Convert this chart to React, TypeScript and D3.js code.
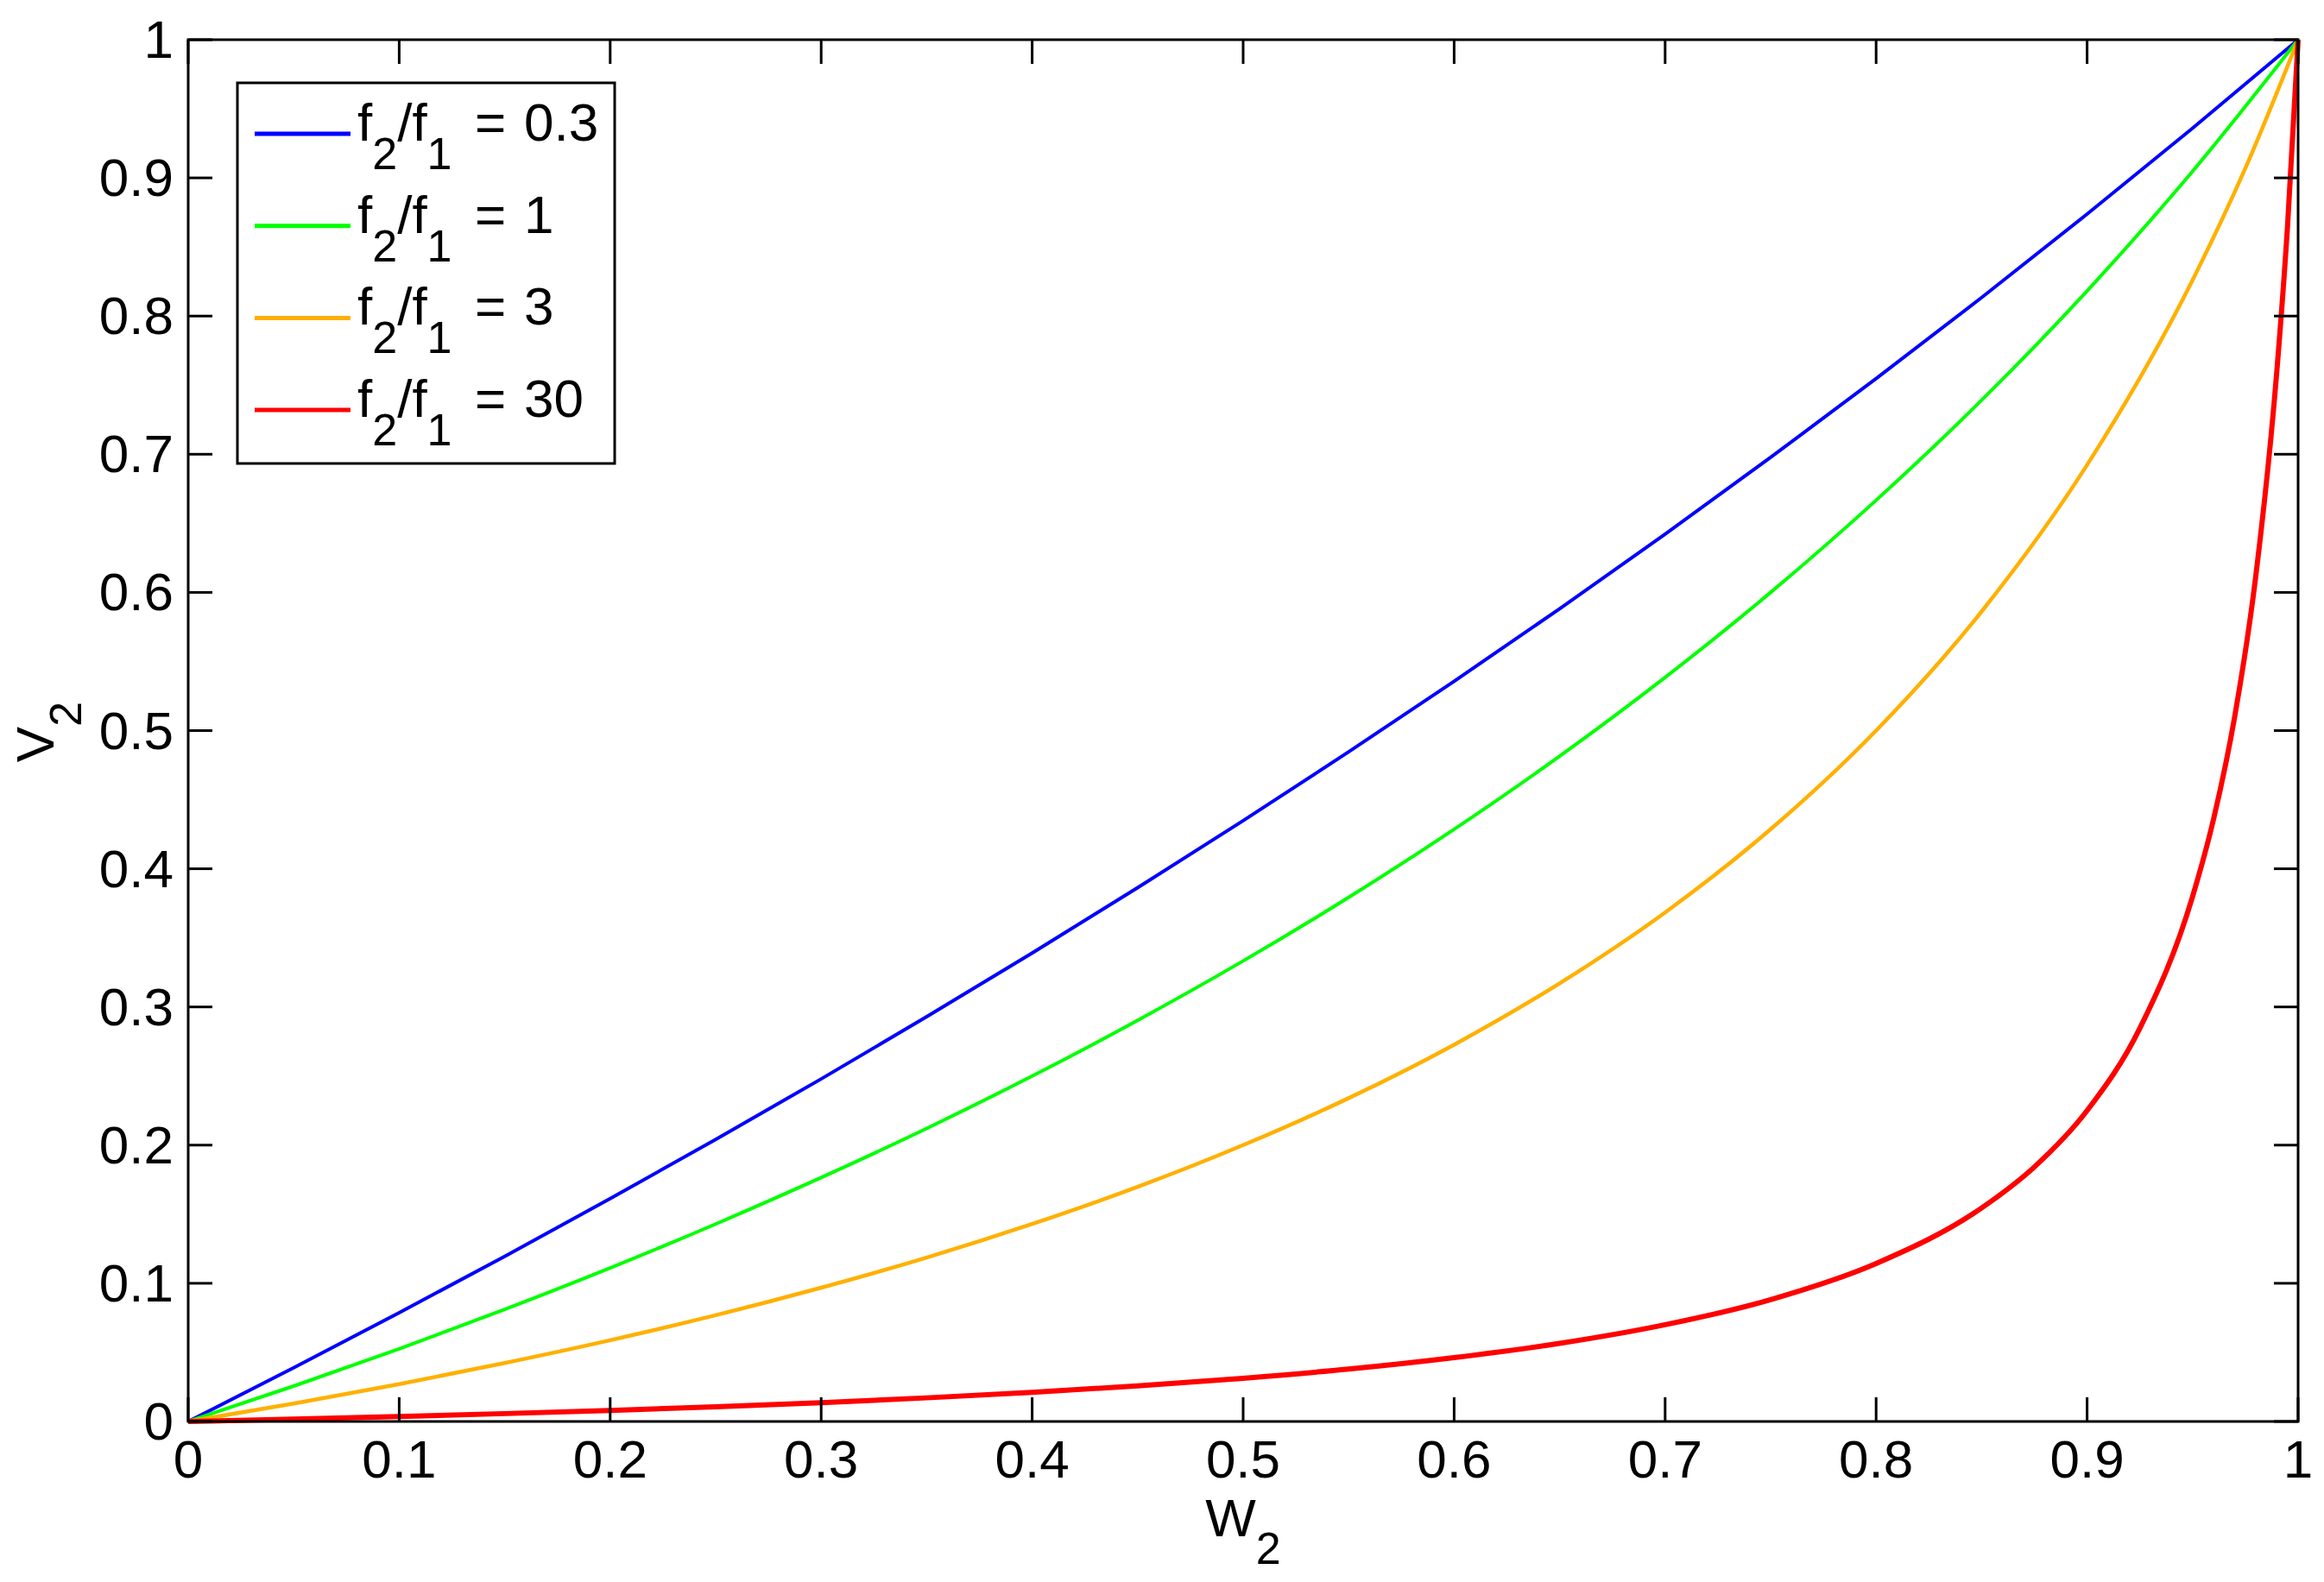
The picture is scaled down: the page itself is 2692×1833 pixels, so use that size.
import React from "react";
import * as d3 from "d3";

const W_GRID = [0, 0.05, 0.1, 0.15, 0.2, 0.25, 0.3, 0.35, 0.4, 0.45, 0.5, 0.55, 0.6, 0.65, 0.7, 0.75, 0.8, 0.85, 0.9, 0.95, 1];
const blueV = [0, 0.0389, 0.0787, 0.1195, 0.1613, 0.2041, 0.2479, 0.2929, 0.339, 0.3863, 0.4348, 0.4846, 0.5357, 0.5882, 0.6422, 0.6977, 0.7547, 0.8134, 0.8738, 0.936, 1];
const greenV = [0, 0.0256, 0.0526, 0.0811, 0.1111, 0.1429, 0.1765, 0.2121, 0.25, 0.2903, 0.3333, 0.3793, 0.4286, 0.4815, 0.5385, 0.6, 0.6667, 0.7391, 0.8182, 0.9048, 1];
const orangeW = [0, 0.05, 0.1, 0.15, 0.2, 0.25, 0.3, 0.35, 0.4, 0.45, 0.5, 0.55, 0.6, 0.65, 0.7, 0.75, 0.8, 0.85, 0.9, 0.95, 0.975, 1];
const orangeV = [0, 0.013, 0.027, 0.0423, 0.0588, 0.0769, 0.0968, 0.1186, 0.1429, 0.1698, 0.2, 0.234, 0.2727, 0.3171, 0.3684, 0.4286, 0.5, 0.5862, 0.6923, 0.8261, 0.907, 1];
const redW = [0, 0.05, 0.1, 0.15, 0.2, 0.25, 0.3, 0.35, 0.4, 0.45, 0.5, 0.55, 0.6, 0.65, 0.7, 0.75, 0.8, 0.85, 0.875, 0.9, 0.925, 0.95, 0.96, 0.97, 0.98, 0.99, 0.995, 1];
const redV = [0, 0.0017, 0.0036, 0.0057, 0.008, 0.0106, 0.0136, 0.0171, 0.0211, 0.0257, 0.0313, 0.0379, 0.0462, 0.0565, 0.07, 0.0882, 0.1143, 0.1545, 0.1842, 0.225, 0.2846, 0.38, 0.4364, 0.5105, 0.6125, 0.7615, 0.8652, 1];

const seriesLabels = ["0.3", "1", "3", "30"];
const seriesColors = ["#0000ff", "#00ff00", "#ffb000", "#ff0000"];
const xTicks = [0, 0.1, 0.2, 0.3, 0.4, 0.5, 0.6, 0.7, 0.8, 0.9, 1];
const yTicks = [0, 0.1, 0.2, 0.3, 0.4, 0.5, 0.6, 0.7, 0.8, 0.9, 1];

const WIDTH = 2692;
const HEIGHT = 1833;
const L = 218, R = 2662, T = 46, B = 1647;
const FONT = "'Liberation Sans', Arial, Helvetica, sans-serif";
const FS = 62;
const SUB = 52;
const TICK = 28;

export default function App() {
  const x = d3.scaleLinear().domain([0, 1]).range([L, R]);
  const y = d3.scaleLinear().domain([0, 1]).range([B, T]);
  const line = d3
    .line<[number, number]>()
    .x((d) => x(d[0]))
    .y((d) => y(d[1]))
    .curve(d3.curveMonotoneX);

  const series = [
    { w: W_GRID, v: blueV, width: 4 },
    { w: W_GRID, v: greenV, width: 4 },
    { w: orangeW, v: orangeV, width: 4.5 },
    { w: redW, v: redV, width: 6 },
  ];

  const fmt = (t: number) => String(t);

  const legX = 275, legY = 96, legW = 437, legH = 441;
  const rowY0 = 155, rowStep = 106.7;

  return (
    <div style={{ position: "absolute", left: 0, top: 0 }}>
      <svg width={WIDTH} height={HEIGHT} style={{ display: "block", background: "#fff" }} fontFamily={FONT}>
        <rect x={0} y={0} width={WIDTH} height={HEIGHT} fill="#fff" />
        {series.map((s, i) => (
          <path
            key={i}
            d={line(s.w.map((w, j) => [w, s.v[j]] as [number, number])) || ""}
            fill="none"
            stroke={seriesColors[i]}
            strokeWidth={s.width}
            strokeLinejoin="round"
          />
        ))}
        <rect x={L} y={T} width={R - L} height={B - T} fill="none" stroke="#000" strokeWidth={3} />
        {xTicks.map((t) => (
          <g key={"xt" + t}>
            <line x1={x(t)} x2={x(t)} y1={B} y2={B - TICK} stroke="#000" strokeWidth={3} />
            <line x1={x(t)} x2={x(t)} y1={T} y2={T + TICK} stroke="#000" strokeWidth={3} />
            <text x={x(t)} y={1712} fontSize={FS} textAnchor="middle" fill="#000">
              {fmt(t)}
            </text>
          </g>
        ))}
        {yTicks.map((t) => (
          <g key={"yt" + t}>
            <line x1={L} x2={L + TICK} y1={y(t)} y2={y(t)} stroke="#000" strokeWidth={3} />
            <line x1={R} x2={R - TICK} y1={y(t)} y2={y(t)} stroke="#000" strokeWidth={3} />
            <text x={201} y={y(t) + 21} fontSize={FS} textAnchor="end" fill="#000">
              {fmt(t)}
            </text>
          </g>
        ))}
        <text x={1440} y={1780} fontSize={FS} textAnchor="middle" fill="#000">
          W<tspan fontSize={SUB} dy={32}>2</tspan>
        </text>
        <text transform={`translate(62, 848) rotate(-90)`} fontSize={FS} textAnchor="middle" fill="#000">
          V<tspan fontSize={SUB} dy={32}>2</tspan>
        </text>
        <rect x={legX} y={legY} width={legW} height={legH} fill="#fff" stroke="#000" strokeWidth={3} />
        {seriesLabels.map((lab, i) => {
          const ry = rowY0 + i * rowStep;
          return (
            <g key={"leg" + i}>
              <line x1={295} x2={406} y1={ry} y2={ry} stroke={seriesColors[i]} strokeWidth={5} />
              <text x={414} y={ry + 8} fontSize={FS} fill="#000">
                f<tspan fontSize={SUB} dy={33}>2</tspan>
                <tspan dy={-33}>/f</tspan>
                <tspan fontSize={SUB} dy={33}>1</tspan>
                <tspan dy={-33} x={550}>=</tspan>
                <tspan x={607}>{lab}</tspan>
              </text>
            </g>
          );
        })}
      </svg>
    </div>
  );
}
